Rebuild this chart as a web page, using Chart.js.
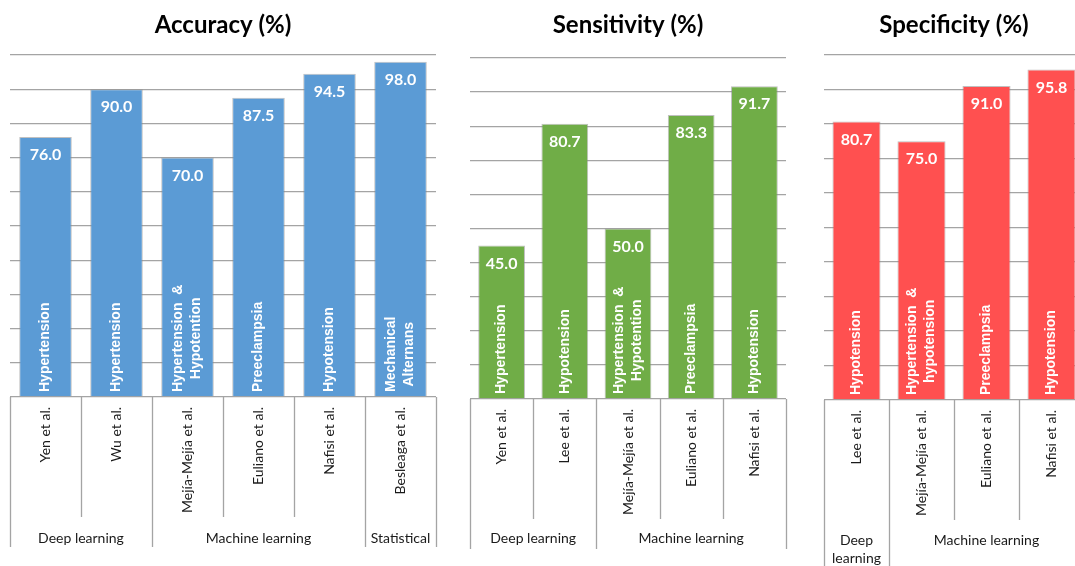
<!DOCTYPE html>
<html>
<head>
<meta charset="utf-8">
<script src="https://cdn.jsdelivr.net/npm/chart.js@4.4.1/dist/chart.umd.min.js"></script>
<style>
  html, body { margin: 0; padding: 0; background: #fff; overflow: hidden; width: 1075px; height: 566px; }
  canvas { position: absolute; top: 0; }
</style>
</head>
<body>
<canvas id="accChart" width="450" height="566" style="left:0px"></canvas>
<canvas id="sensChart" width="350" height="566" style="left:450px"></canvas>
<canvas id="specChart" width="300" height="566" style="left:800px"></canvas>

<script>
// --- DATA ---
const accLabels = ['Yen et al.', 'Wu et al.', 'Mejía-Mejía et al.', 'Euliano et al.', 'Nafisi et al.', 'Besleaga et al.'];
const accValues = [76.0, 90.0, 70.0, 87.5, 94.5, 98.0];
const accConditions = [['Hypertension'], ['Hypertension'], ['Hypertension  &', 'Hypotention'], ['Preeclampsia'], ['Hypotension'], ['Mechanical', 'Alternans']];
const accGroupNames = [['Deep learning'], ['Machine learning'], ['Statistical']];
const accGroupSpans = [2, 3, 1];

const sensLabels = ['Yen et al.', 'Lee et al.', 'Mejía-Mejía et al.', 'Euliano et al.', 'Nafisi et al.'];
const sensValues = [45.0, 80.7, 50.0, 83.3, 91.7];
const sensConditions = [['Hypertension'], ['Hypotension'], ['Hypertension  &', 'Hypotention'], ['Preeclampsia'], ['Hypotension']];
const sensGroupNames = [['Deep learning'], ['Machine learning']];
const sensGroupSpans = [2, 3];

const specLabels = ['Lee et al.', 'Mejía-Mejía et al.', 'Euliano et al.', 'Nafisi et al.'];
const specValues = [80.7, 75.0, 91.0, 95.8];
const specConditions = [['Hypotension'], ['Hypertension  &', 'hypotension'], ['Preeclampsia'], ['Hypotension']];
const specGroupNames = [['Deep', 'learning'], ['Machine learning']];
const specGroupSpans = [1, 3];

const yTicks = [0, 10, 20, 30, 40, 50, 60, 70, 80, 90, 100];

const CALIBRI = 'Lato, "Open Sans", sans-serif';
const ARIAL = '"Liberation Sans", Arial, sans-serif';
const LINE_GRAY = '#a4a4a4';

// --- DECORATION PLUGIN: title, values, in-bar text, category table ---
const tablePlugin = {
    id: 'tablePlugin',
    afterDraw(chart) {
        const o = chart.options.plugins.tablePlugin;
        const ctx = chart.ctx;
        const area = chart.chartArea;
        const xs = chart.scales.x;
        const bars = chart.getDatasetMeta(0).data;
        const n = chart.data.labels.length;
        const step = (area.right - area.left) / n;
        const axisY = area.bottom;

        ctx.save();

        // title
        ctx.fillStyle = '#000';
        ctx.font = 'bold 24px ' + CALIBRI;
        ctx.textAlign = 'center';
        ctx.textBaseline = 'alphabetic';
        ctx.fillText(o.title, (area.left + area.right) / 2, 33);

        // value labels + in-bar condition text
        bars.forEach((bar, i) => {
            const v = chart.data.datasets[0].data[i];
            ctx.fillStyle = '#fff';
            ctx.font = 'bold 16px ' + CALIBRI;
            ctx.textAlign = 'center';
            ctx.textBaseline = 'middle';
            ctx.fillText(v.toFixed(1), bar.x, bar.y + 18);

            const lines = o.conditions[i];
            ctx.font = 'bold 14px ' + ARIAL;
            const w = Math.max(...lines.map(l => ctx.measureText(l).width));
            ctx.save();
            ctx.translate(bar.x, axisY - 5 - w / 2);
            ctx.rotate(-Math.PI / 2);
            lines.forEach((l, k) => {
                const off = (k - (lines.length - 1) / 2) * 18;
                ctx.fillText(l, 0, off);
            });
            ctx.restore();
        });

        // category table lines
        const groupEdges = [0];
        o.groupSpans.reduce((acc, s) => { groupEdges.push(acc + s); return acc + s; }, 0);
        ctx.strokeStyle = LINE_GRAY;
        ctx.lineWidth = 1.3;
        for (let i = 0; i <= n; i++) {
            const x = Math.round(area.left + i * step) + 0.5;
            const len = groupEdges.includes(i) ? o.groupLen : o.innerLen;
            ctx.beginPath();
            ctx.moveTo(x, axisY);
            ctx.lineTo(x, axisY + len);
            ctx.stroke();
        }

        // author tick labels (rotated)
        ctx.fillStyle = '#1a1a1a';
        ctx.font = '14px ' + CALIBRI;
        chart.data.labels.forEach((lab, i) => {
            const x = xs.getPixelForValue(i);
            ctx.save();
            ctx.translate(x, axisY + 10);
            ctx.rotate(-Math.PI / 2);
            ctx.textAlign = 'right';
            ctx.textBaseline = 'middle';
            ctx.fillText(lab, 0, 0);
            ctx.restore();
        });

        // group labels
        ctx.textAlign = 'center';
        ctx.textBaseline = 'middle';
        o.groupNames.forEach((g, k) => {
            const x0 = area.left + groupEdges[k] * step;
            const x1 = area.left + groupEdges[k + 1] * step;
            g.forEach((line, j) => {
                ctx.fillText(line, (x0 + x1) / 2, axisY + o.groupLabelDy + j * 18);
            });
        });

        ctx.restore();
    }
};

function makeChart(id, labels, values, color, cfg) {
    return new Chart(document.getElementById(id), {
        type: 'bar',
        data: {
            labels: labels,
            datasets: [{
                data: values,
                backgroundColor: color,
                borderColor: 'rgba(140,140,140,0.55)',
                borderWidth: 1,
                barPercentage: 0.74,
                categoryPercentage: 1.0
            }]
        },
        options: {
            responsive: false,
            devicePixelRatio: 1,
            animation: false,
            layout: { padding: cfg.padding },
            plugins: {
                legend: { display: false },
                tooltip: { enabled: false },
                tablePlugin: cfg
            },
            scales: {
                x: { display: false },
                y: {
                    min: yTicks[0],
                    max: yTicks[yTicks.length - 1],
                    afterBuildTicks: s => { s.ticks = yTicks.map(v => ({ value: v })); },
                    afterFit: s => { s.width = 0; },
                    ticks: { display: false },
                    border: { display: false },
                    grid: { color: LINE_GRAY, lineWidth: 1.3, drawTicks: false }
                }
            }
        },
        plugins: [tablePlugin]
    });
}

makeChart('accChart', accLabels, accValues, '#5B9BD5', {
    title: 'Accuracy (%)',
    conditions: accConditions,
    groupNames: accGroupNames,
    groupSpans: accGroupSpans,
    padding: { left: 10, right: 14, top: 55, bottom: 169 },
    innerLen: 120, groupLen: 150, groupLabelDy: 141
});

makeChart('sensChart', sensLabels, sensValues, '#70AD47', {
    title: 'Sensitivity (%)',
    conditions: sensConditions,
    groupNames: sensGroupNames,
    groupSpans: sensGroupSpans,
    padding: { left: 20, right: 14, top: 58, bottom: 167 },
    innerLen: 120, groupLen: 150, groupLabelDy: 139
});

makeChart('specChart', specLabels, specValues, '#FF5050', {
    title: 'Specificity (%)',
    conditions: specConditions,
    groupNames: specGroupNames,
    groupSpans: specGroupSpans,
    padding: { left: 24, right: 16, top: 55, bottom: 166 },
    innerLen: 120, groupLen: 200, groupLabelDy: 140
});
</script>
</body>
</html>
